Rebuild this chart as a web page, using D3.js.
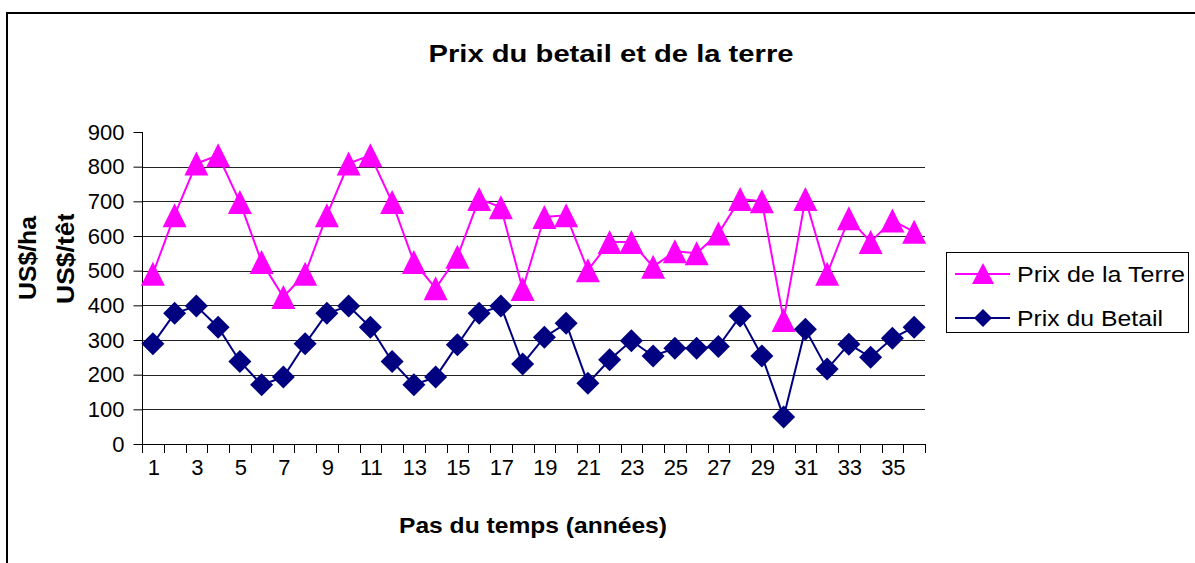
<!DOCTYPE html>
<html><head><meta charset="utf-8">
<script src="https://cdn.jsdelivr.net/npm/d3@7"></script>
<style>body{margin:0;background:#fff}svg{display:block}text{font-family:Arial,"Liberation Sans",sans-serif;fill:#000}</style>
</head><body>
<script>
const categories = d3.range(1, 37).map(String);
const prixTerre = [491,660,809,833,698,525,424,491,660,809,833,698,525,449,540,707,683,447,655,660,501,583,583,511,556,550,607,707,700,358,707,491,651,583,645,612];
const prixBetail = [289,377,398,337,238,171,193,289,377,398,337,238,171,193,286,377,398,231,308,348,175,243,298,254,276,276,281,369,254,78,331,216,288,250,305,337];
const yTicks = [0,100,200,300,400,500,600,700,800,900];
const xTickLabels = categories.filter((d,i)=>i%2===0);
const seriesNames = ["Prix de la Terre","Prix du Betail"];
const title = "Prix du betail et de la terre";
const xTitle = "Pas du temps (années)";
const yTitle1 = "US$/ha";
const yTitle2 = "US$/tête";

const W=1195,H=563;
const svg=d3.select("body").append("svg").attr("width",W).attr("height",H);
// outer frame
svg.append("path").attr("d","M7,575 L7,13 L1205,13").attr("fill","none").attr("stroke","#000").attr("stroke-width",2);

const x=d3.scaleBand().domain(categories).range([142,925]).padding(0);
const y=d3.scaleLinear().domain([0,900]).range([444,132]);
const cx=d=>x(d)+x.bandwidth()/2;

// gridlines
svg.append("g").selectAll("line").data(yTicks.filter(v=>v>0&&v<900)).join("line")
  .attr("x1",142).attr("x2",925).attr("y1",d=>Math.round(y(d))+0.5).attr("y2",d=>Math.round(y(d))+0.5)
  .attr("stroke","#222").attr("stroke-width",1);

// y axis
const ya=svg.append("g").attr("transform","translate(142.5,0)")
  .call(d3.axisLeft(y).tickValues(yTicks).tickSize(9).tickPadding(9));
ya.select(".domain").attr("stroke","#000").attr("d","M0,"+y(900)+"V"+y(0));
ya.selectAll(".tick line").attr("stroke","#000");
ya.selectAll("text").attr("font-size",22).attr("font-family","Arial, 'Liberation Sans', sans-serif").attr("fill","#000");

// x axis
svg.append("line").attr("x1",142).attr("x2",925).attr("y1",444.5).attr("y2",444.5).attr("stroke","#000");
const edges=categories.map(c=>x(c)).concat([x(categories[categories.length-1])+x.bandwidth()]);
svg.append("g").selectAll("line").data(edges).join("line")
  .attr("x1",d=>Math.round(d)+0.5).attr("x2",d=>Math.round(d)+0.5).attr("y1",444).attr("y2",453).attr("stroke","#000");
svg.append("g").selectAll("text").data(xTickLabels).join("text")
  .attr("x",d=>cx(d)+1).attr("y",475).attr("text-anchor","middle").attr("font-size",22).text(d=>d);

// lines
const line=d3.line().x((d,i)=>cx(categories[i])).y(d=>y(d));
svg.append("path").datum(prixTerre).attr("d",line).attr("fill","none").attr("stroke","#FF00FF").attr("stroke-width",2);
svg.append("path").datum(prixBetail).attr("d",line).attr("fill","none").attr("stroke","#000080").attr("stroke-width",2);

const dia=(s)=>`M0,${-s}L${s},0L0,${s}L${-s},0Z`;
svg.append("g").selectAll("path").data(prixTerre).join("path")
  .attr("transform",(d,i)=>`translate(${cx(categories[i])},${y(d)})`)
  .attr("d","M0,-12L12,12L-12,12Z").attr("fill","#FF00FF");
svg.append("g").selectAll("path").data(prixBetail).join("path")
  .attr("transform",(d,i)=>`translate(${cx(categories[i])},${y(d)})`)
  .attr("d",dia(11.5)).attr("fill","#000080");

// titles
svg.append("text").attr("x",611).attr("y",62).attr("text-anchor","middle").attr("font-size",24).attr("font-weight","bold")
  .attr("textLength",365).attr("lengthAdjust","spacingAndGlyphs").text(title);
svg.append("text").attr("x",533).attr("y",533).attr("text-anchor","middle").attr("font-size",22).attr("font-weight","bold")
  .attr("textLength",268).attr("lengthAdjust","spacingAndGlyphs").text(xTitle);
svg.append("text").attr("transform","translate(36,258) rotate(-90)").attr("text-anchor","middle").attr("font-size",23).attr("font-weight","bold")
  .attr("textLength",84).attr("lengthAdjust","spacingAndGlyphs").text(yTitle1);
svg.append("clipPath").attr("id","yc").append("rect").attr("x",40).attr("y",214).attr("width",50).attr("height",100);
svg.append("g").attr("clip-path","url(#yc)")
  .append("text").attr("transform","translate(74,304) rotate(-90)").attr("text-anchor","start").attr("font-size",23).attr("font-weight","bold")
  .attr("textLength",106).attr("lengthAdjust","spacingAndGlyphs").text(yTitle2);

// legend
const lg=svg.append("g");
lg.append("rect").attr("x",946.5).attr("y",252.5).attr("width",242).attr("height",80).attr("fill","#fff").attr("stroke","#000");
const cols=["#FF00FF","#000080"];
seriesNames.forEach((n,i)=>{
  const yy=274+i*44;
  lg.append("line").attr("x1",955).attr("x2",1010).attr("y1",yy).attr("y2",yy).attr("stroke",cols[i]).attr("stroke-width",2);
  lg.append("path").attr("transform",`translate(983,${yy})`).attr("d",i===0?"M0,-11L11,10L-11,10Z":dia(9)).attr("fill",cols[i]);
  lg.append("text").attr("x",1017).attr("y",yy+8).attr("font-size",22).attr("textLength",i===0?168:146).attr("lengthAdjust","spacingAndGlyphs").text(n);
});
</script>
</body></html>
